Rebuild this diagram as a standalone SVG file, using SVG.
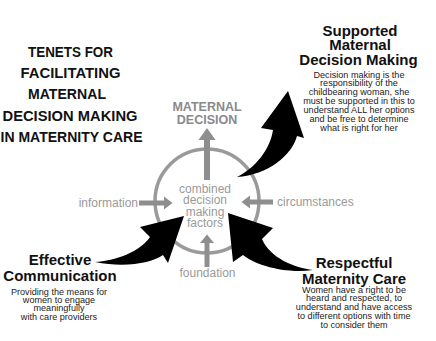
<svg xmlns="http://www.w3.org/2000/svg" width="436" height="341" viewBox="0 0 436 341">
<style>
.title{font-family:"Liberation Sans",Arial,sans-serif;font-weight:bold;font-size:14px;fill:#111;text-anchor:middle}
.head{font-family:"Liberation Sans",Arial,sans-serif;font-weight:bold;font-size:15px;fill:#111;text-anchor:middle}
.body{font-family:"Liberation Sans",Arial,sans-serif;font-size:9.1px;fill:#222;text-anchor:middle}
.gray{font-family:"Liberation Sans",Arial,sans-serif;font-size:12px;fill:#9a9a9a}
.grayb{font-family:"Liberation Sans",Arial,sans-serif;font-weight:bold;font-size:12.5px;fill:#8a8a8a;text-anchor:middle}
.gline{stroke:#8e8e8e;fill:none}
.ghead{fill:#8e8e8e}
.big{fill:#000}
</style>
<rect width="436" height="341" fill="#fff"/>

<g id="title">
<text class="title" x="70.5" y="57" textLength="85" lengthAdjust="spacingAndGlyphs">TENETS FOR</text>
<text class="title" x="70.5" y="78" textLength="100" lengthAdjust="spacingAndGlyphs">FACILITATING</text>
<text class="title" x="67" y="99" textLength="78" lengthAdjust="spacingAndGlyphs">MATERNAL</text>
<text class="title" x="70" y="120.5" textLength="135" lengthAdjust="spacingAndGlyphs">DECISION MAKING</text>
<text class="title" x="71.5" y="142" textLength="142" lengthAdjust="spacingAndGlyphs">IN MATERNITY CARE</text>
</g>

<g id="maternal-decision">
<text class="grayb" x="207" y="111">MATERNAL</text>
<text class="grayb" x="207" y="123.5">DECISION</text>
</g>

<g id="combined-factors">
<circle cx="207" cy="201" r="52" fill="none" stroke="#9a9a9a" stroke-width="3.5"/>
<text class="gray" text-anchor="middle" x="205" y="192.5">combined</text>
<text class="gray" text-anchor="middle" x="205" y="204">decision</text>
<text class="gray" text-anchor="middle" x="205" y="215.5">making</text>
<text class="gray" text-anchor="middle" x="205" y="227">factors</text>
</g>

<g id="information"><text class="gray" text-anchor="end" x="138" y="207">information</text></g>
<g id="circumstances"><text class="gray" x="277" y="206">circumstances</text></g>
<g id="foundation"><text class="gray" text-anchor="middle" x="207.5" y="277">foundation</text></g>

<g id="supported">
<text class="head" x="360" y="36">Supported</text>
<text class="head" x="360" y="50">Maternal</text>
<text class="head" x="358.5" y="64.5">Decision Making</text>
<text class="body" x="359" y="77.5">Decision making is the</text>
<text class="body" x="359" y="86.4">responsibility of the</text>
<text class="body" x="359" y="95.3">childbearing woman, she</text>
<text class="body" x="359" y="104.2">must be supported in this to</text>
<text class="body" x="359" y="113.1">understand ALL her options</text>
<text class="body" x="359" y="122">and be free to determine</text>
<text class="body" x="359" y="130.9">what is right for her</text>
</g>

<g id="effective">
<text class="head" x="60" y="265">Effective</text>
<text class="head" x="60" y="281">Communication</text>
<text class="body" x="59" y="295">Providing the means for</text>
<text class="body" x="59" y="303.2">women to engage</text>
<text class="body" x="59" y="311.4">meaningfully</text>
<text class="body" x="59" y="319.8">with care providers</text>
</g>

<g id="respectful">
<text class="head" x="354" y="268">Respectful</text>
<text class="head" x="354" y="284">Maternity Care</text>
<text class="body" x="354" y="292.5">Women have a right to be</text>
<text class="body" x="354" y="301.3">heard and respected, to</text>
<text class="body" x="354" y="310.1">understand and have access</text>
<text class="body" x="354" y="318.9">to different options with time</text>
<text class="body" x="354" y="327.7">to consider them</text>
</g>

<g id="connectors">
<line class="gline" x1="207" y1="180" x2="207" y2="139" stroke-width="6"/>
<polygon class="ghead" points="198.5,140 215.5,140 207,128"/>
<line class="gline" x1="207" y1="267" x2="207" y2="242" stroke-width="5"/>
<polygon class="ghead" points="200,243 214,243 207,234.5"/>
<line class="gline" x1="139" y1="203" x2="165" y2="203" stroke-width="5"/>
<polygon class="ghead" points="164,196.5 164,209.5 172.5,203"/>
<line class="gline" x1="273" y1="202" x2="249" y2="202" stroke-width="5"/>
<polygon class="ghead" points="250,195.5 250,208.5 241.5,202"/>
<path class="big" d="M237,177 C255,168 270,150 273,130 L261,128 L288,91 L304,138 L297,136 C292,155 268,175 237,177 Z"/>
<path class="big" d="M95,262 C115,261 140,252 150,237 L140,227 L184,216 L168,263 L163,255 C152,263 125,268 95,262 Z"/>
<path class="big" d="M313,270 C295,268 270,258 262,239 L273,228 L228,213 L233,262 L243,255 C255,265 285,274 313,270 Z"/>
</g>
</svg>
